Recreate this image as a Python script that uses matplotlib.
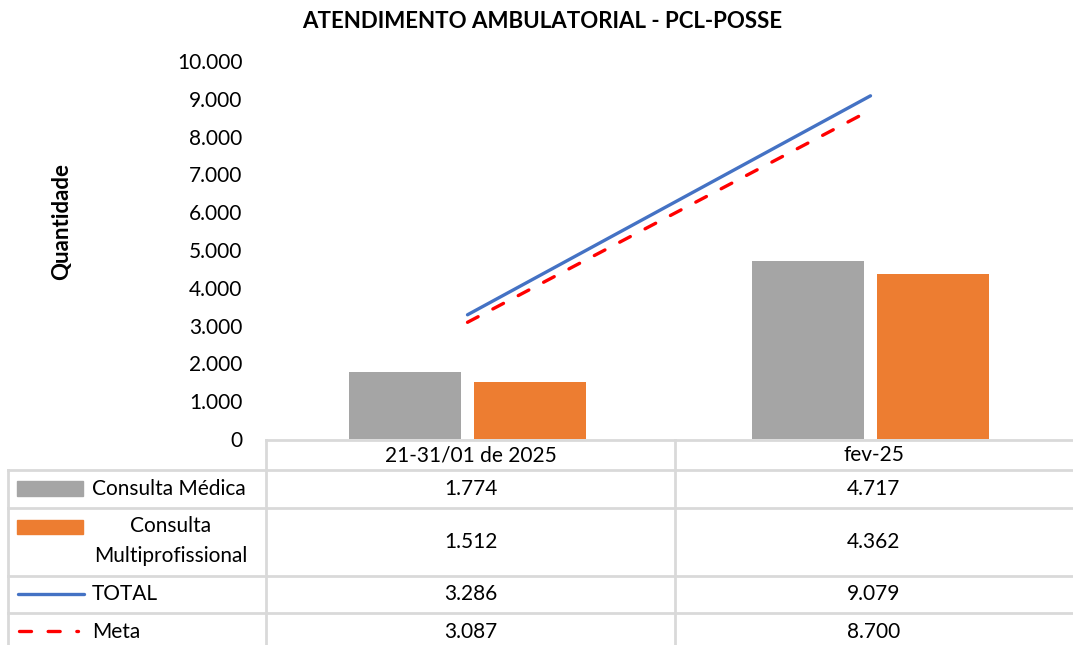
import numpy as np
import matplotlib
matplotlib.use("Agg")
import matplotlib.pyplot as plt
from matplotlib.lines import Line2D
from matplotlib.patches import Rectangle

plt.rcParams['font.family'] = ['Lato', 'DejaVu Sans']

# data
categories = ["21-31/01 de 2025", "fev-25"]
consulta_medica = [1774, 4717]
consulta_multi = [1512, 4362]
total = [3286, 9079]
meta = [3087, 8700]

series_names = ["Consulta Médica", "Consulta\nMultiprofissional", "TOTAL", "Meta"]

c_gray = "#A5A5A5"
c_orange = "#ED7D31"
c_blue = "#4472C4"
c_red = "#FF0000"
c_grid = "#D9D9D9"

W, H = 1073, 645
fig = plt.figure(figsize=(W / 100, H / 100), dpi=100)


def fx(px):
    return px / W


def fy(py):
    return 1 - py / H


# plot area
ax = fig.add_axes([fx(266), fy(439), fx(1072) - fx(266), fy(61) - fy(439)])
x = np.arange(len(categories))
bw = 0.28
off = 0.155
ax.bar(x - off, consulta_medica, bw, color=c_gray, zorder=2)
ax.bar(x + off, consulta_multi, bw, color=c_orange, zorder=2)
dash = (0, (3.6, 5.0))
ax.plot(x, total, color=c_blue, lw=2.4, solid_capstyle='round', zorder=3)
ax.plot(x, meta, color=c_red, lw=2.4, linestyle=dash, dash_capstyle='round', zorder=3)

ax.set_xlim(-0.5, len(categories) - 0.5)
ax.set_ylim(0, 10000)
ax.set_yticks(np.arange(0, 10001, 1000))
ax.set_yticklabels([f"{int(v):,}".replace(",", ".") for v in np.arange(0, 10001, 1000)])
ax.tick_params(axis='y', length=0, labelsize=15, pad=17)
ax.set_xticks([])
for s in ax.spines.values():
    s.set_visible(False)

fig.text(fx(542), fy(21), "ATENDIMENTO AMBULATORIAL - PCL-POSSE", ha='center', va='center',
         fontsize=16, fontweight='bold')
fig.text(fx(62), fy(221), "Quantidade", rotation=90, ha='center', va='center',
         fontsize=16, fontweight='bold')

# data table below the chart
lw_grid = 2


def hline(x0, x1, y):
    fig.add_artist(Line2D([fx(x0), fx(x1)], [fy(y), fy(y)], color=c_grid, lw=lw_grid))


def vline(xp, y0, y1):
    fig.add_artist(Line2D([fx(xp), fx(xp)], [fy(y0), fy(y1)], color=c_grid, lw=lw_grid))


col_c = [470.5, 873.5]
rows = [(470, 508), (508, 576), (576, 613), (613, 652)]

hline(266, 1080, 439.5)
hline(8, 1080, 470)
for r0, r1 in rows[1:]:
    hline(8, 1080, r0)
vline(8, 470, 650)
vline(266, 439.5, 650)
vline(675, 439.5, 650)

fs = 15
for i, cat in enumerate(categories):
    fig.text(fx(col_c[i]), fy(455), cat, ha='center', va='center', fontsize=fs)

table_vals = [consulta_medica, consulta_multi, total, meta]
for r, vals in enumerate(table_vals):
    yc = (rows[r][0] + rows[r][1]) / 2
    for i, v in enumerate(vals):
        fig.text(fx(col_c[i]), fy(yc), f"{v:,}".replace(",", "."), ha='center', va='center', fontsize=fs)

# legend keys
fig.add_artist(Rectangle((fx(17), fy(496)), fx(83) - fx(17), fy(481) - fy(496), color=c_gray))
fig.add_artist(Rectangle((fx(17), fy(534)), fx(83) - fx(17), fy(520) - fy(534), color=c_orange))
fig.add_artist(Line2D([fx(18), fx(84)], [fy(594), fy(594)], color=c_blue, lw=2.4, solid_capstyle='round'))
fig.add_artist(Line2D([fx(19), fx(77.5)], [fy(631), fy(631)], color=c_red, lw=2.4,
                      linestyle=dash, dash_capstyle='round'))

fig.text(fx(92), fy(489), series_names[0], ha='left', va='center', fontsize=fs)
fig.text(fx(171), fy(541), series_names[1], ha='center', va='center', fontsize=fs, linespacing=1.65)
fig.text(fx(92), fy(594), series_names[2], ha='left', va='center', fontsize=fs)
fig.text(fx(92), fy(632), series_names[3], ha='left', va='center', fontsize=fs)

fig.savefig("out.png", dpi=100)
